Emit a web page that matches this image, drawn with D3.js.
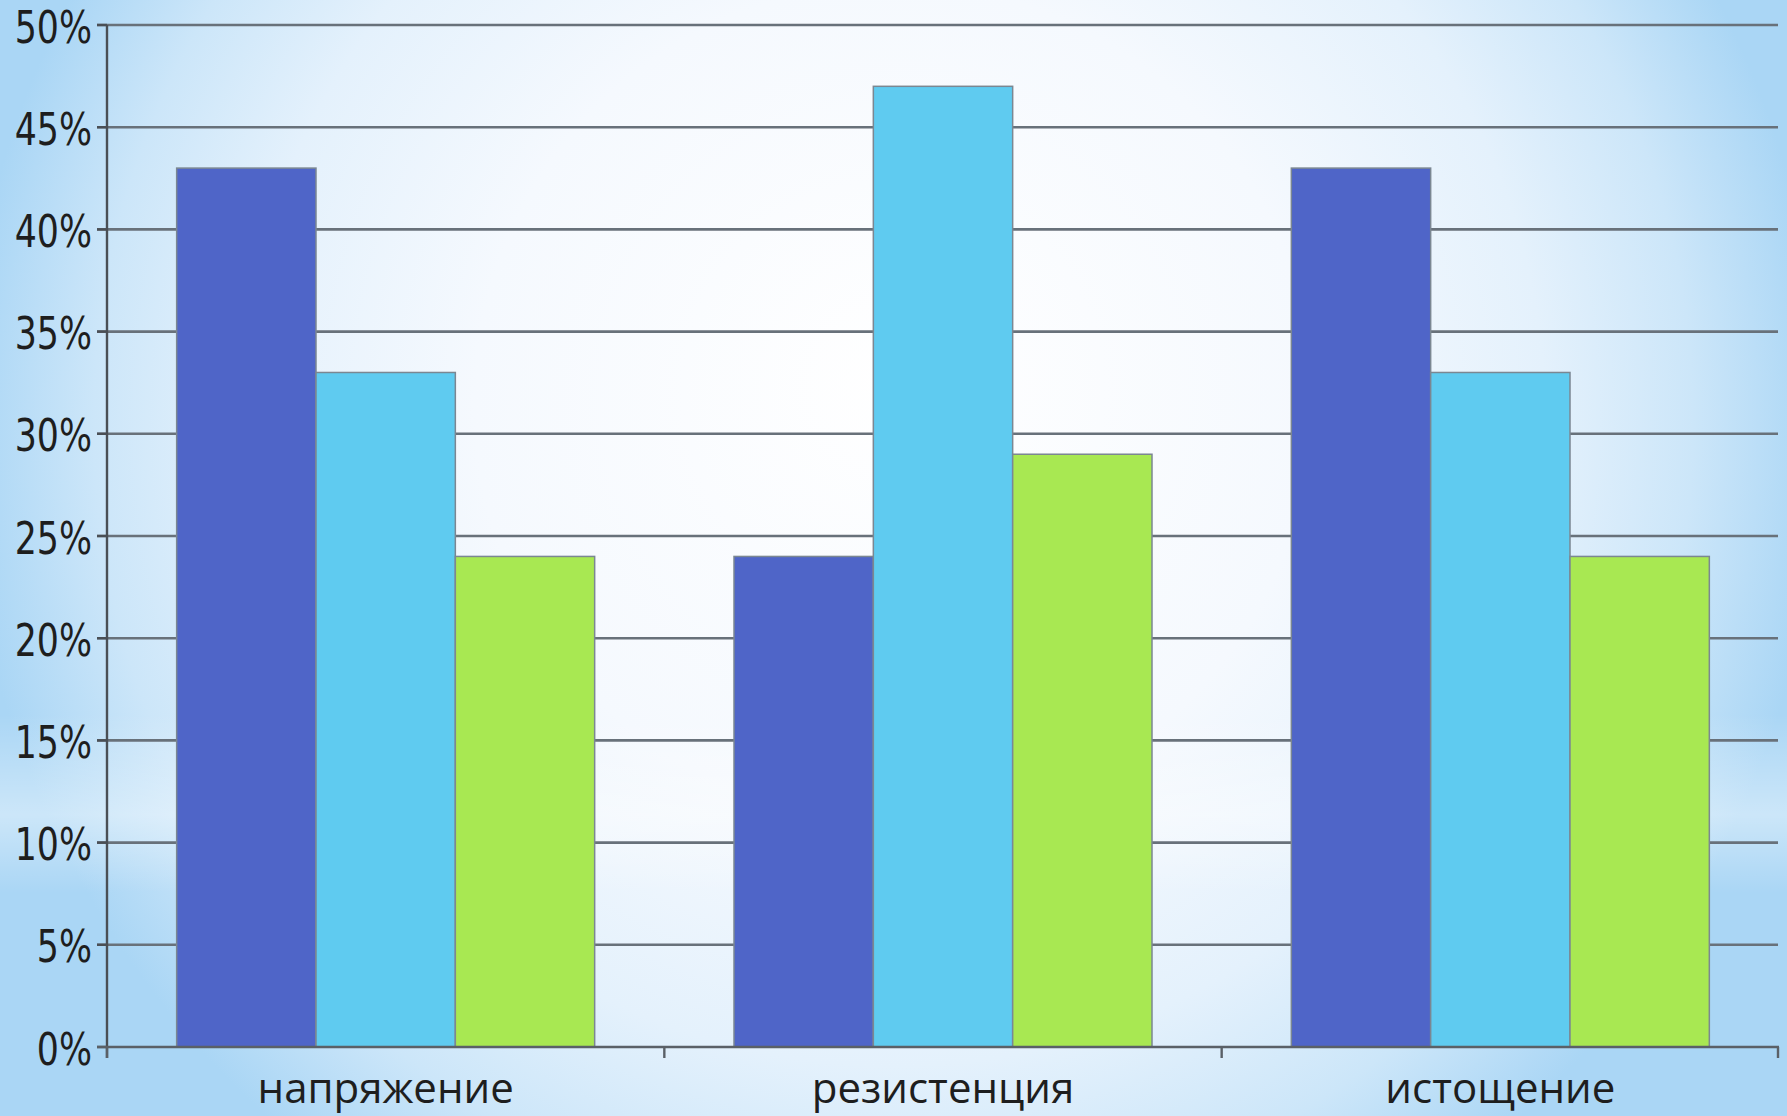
<!DOCTYPE html>
<html>
<head>
<meta charset="utf-8">
<script src="https://cdn.jsdelivr.net/npm/d3@7/dist/d3.min.js"></script>
<style>
  html, body { margin: 0; padding: 0; overflow: hidden; background: #ffffff; }
  svg { display: block; }
</style>
</head>
<body>
<div id="chart"></div>
<script>
// Stress-phase distribution per group (share of respondents)
const categories = ["напряжение", "резистенция", "истощение"];
const seriesNames = ["Группа 1", "Группа 2", "Группа 3"];
const series1 = [0.43, 0.24, 0.43];
const series2 = [0.33, 0.47, 0.33];
const series3 = [0.24, 0.29, 0.24];
const yTicks = [0, 0.05, 0.10, 0.15, 0.20, 0.25, 0.30, 0.35, 0.40, 0.45, 0.50];

const seriesValues = [series1, series2, series3];
const colors = ["#4f65c8", "#5fcbf0", "#a8e852"];

const W = 1787, H = 1116;
const margin = { top: 25, right: 8, bottom: 69, left: 107 };

const svg = d3.select("#chart").append("svg")
  .attr("width", W).attr("height", H);

// Soft sky-blue slide background: white centre fading to blue at the sides
const defs = svg.append("defs");
const bg = defs.append("radialGradient")
  .attr("id", "bg").attr("gradientUnits", "userSpaceOnUse")
  .attr("cx", W / 2).attr("cy", 430).attr("r", 930)
  .attr("fx", W / 2).attr("fy", 380);
[[0, "#ffffff"], [0.45, "#f5f9fe"], [0.7, "#e4f1fc"], [0.86, "#cce6f9"], [1, "#aad6f5"]]
  .forEach(([o, c]) => bg.append("stop").attr("offset", o).attr("stop-color", c));
svg.append("rect").attr("width", W).attr("height", H).attr("fill", "url(#bg)");

// Pale horizontal band across the lower part of the slide
const band = defs.append("linearGradient")
  .attr("id", "band").attr("x1", 0).attr("y1", 0).attr("x2", 0).attr("y2", 1);
[[0, 0], [0.64, 0], [0.73, 0.4], [0.8, 0], [1, 0]]
  .forEach(([o, a]) => band.append("stop").attr("offset", o)
    .attr("stop-color", "#ffffff").attr("stop-opacity", a));
svg.append("rect").attr("width", W).attr("height", H).attr("fill", "url(#band)");

const x0 = margin.left, x1 = W - margin.right;
const y = d3.scaleLinear().domain([0, 0.5]).range([H - margin.bottom, margin.top]);
const x = d3.scaleBand().domain(categories).range([x0, x1])
  .paddingInner(0.25).paddingOuter(0.125);
const xs = d3.scaleBand().domain(d3.range(seriesNames.length)).range([0, x.bandwidth()]);

// Horizontal grid lines
svg.append("g").selectAll("line")
  .data(yTicks.filter(d => d > 0))
  .join("line")
  .attr("x1", x0 - 10).attr("x2", x1 - 1)
  .attr("y1", d => y(d)).attr("y2", d => y(d))
  .attr("stroke", "#68717a").attr("stroke-width", 2.6);

// Bars
const rows = categories.map((c, i) => ({ cat: c, vals: seriesValues.map(s => s[i]) }));
svg.append("g").selectAll("g")
  .data(rows)
  .join("g")
  .attr("transform", d => `translate(${x(d.cat)},0)`)
  .selectAll("rect")
  .data(d => d.vals.map((v, k) => ({ v, k })))
  .join("rect")
  .attr("x", d => xs(d.k))
  .attr("width", xs.bandwidth())
  .attr("y", d => y(d.v))
  .attr("height", d => y(0) - y(d.v))
  .attr("fill", d => colors[d.k])
  .attr("stroke", "#7b8792")
  .attr("stroke-width", 1.5);

// Y axis
const yAxis = svg.append("g").attr("transform", `translate(${x0},0)`);
yAxis.append("line")
  .attr("x1", 0).attr("x2", 0)
  .attr("y1", y(0.5)).attr("y2", y(0) + 11)
  .attr("stroke", "#4a4f55").attr("stroke-width", 2.4);
yAxis.selectAll("line.tick")
  .data(yTicks)
  .join("line").attr("class", "tick")
  .attr("x1", -10).attr("x2", 0)
  .attr("y1", d => y(d)).attr("y2", d => y(d))
  .attr("stroke", "#4a4f55").attr("stroke-width", 2.4);
const fmt = d3.format(".0%");
yAxis.selectAll("text")
  .data(yTicks)
  .join("text")
  .attr("transform", d => `translate(-15,${y(d) + 2}) scale(0.79,1)`)
  .attr("text-anchor", "end")
  .attr("dominant-baseline", "central")
  .attr("font-family", "DejaVu Sans")
  .attr("font-size", 44)
  .attr("fill", "#1e1e1e")
  .text(d => fmt(d));

// X axis
const xAxis = svg.append("g");
xAxis.append("line")
  .attr("x1", x0 - 10).attr("x2", x1)
  .attr("y1", y(0)).attr("y2", y(0))
  .attr("stroke", "#5a6067").attr("stroke-width", 2.4);
const bounds = d3.range(categories.length + 1).map(i => x0 + i * x.step());
xAxis.selectAll("line.tick")
  .data(bounds)
  .join("line").attr("class", "tick")
  .attr("x1", d => Math.min(d, x1 - 1)).attr("x2", d => Math.min(d, x1 - 1))
  .attr("y1", y(0)).attr("y2", y(0) + 11)
  .attr("stroke", "#5a6067").attr("stroke-width", 2.4);
xAxis.selectAll("text")
  .data(categories)
  .join("text")
  .attr("x", d => x(d) + x.bandwidth() / 2)
  .attr("y", H - 13)
  .attr("text-anchor", "middle")
  .attr("font-family", "Open Sans")
  .attr("font-size", 42)
  .attr("fill", "#1e1e1e")
  .text(d => d);
</script>
</body>
</html>
